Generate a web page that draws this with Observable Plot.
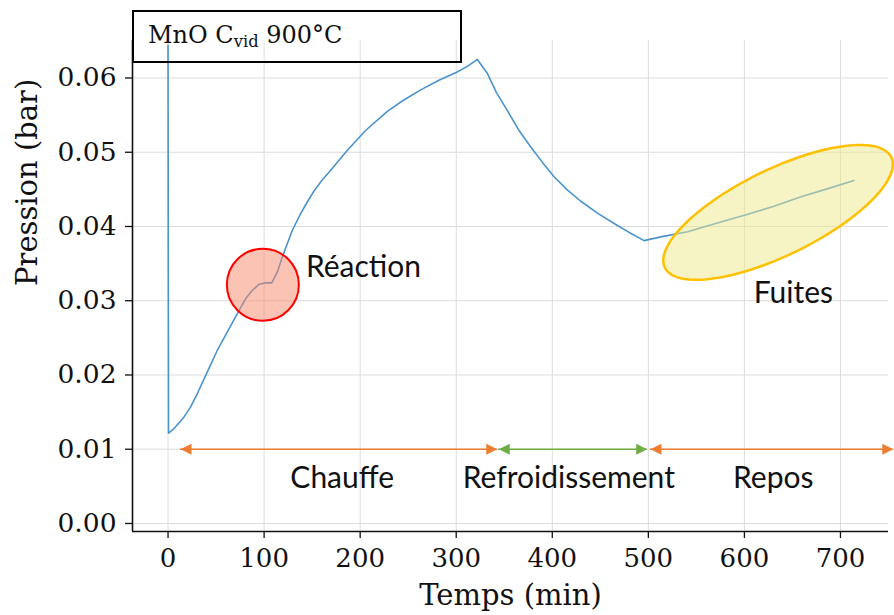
<!DOCTYPE html>
<html>
<head>
<meta charset="utf-8">
<script src="https://cdn.jsdelivr.net/npm/d3@7"></script>
<script src="https://cdn.jsdelivr.net/npm/@observablehq/plot@0.6"></script>
<style>
  html, body { margin: 0; padding: 0; background: white; }
  #wrap { position: relative; width: 894px; height: 615px; }
  #box {
    position: absolute; left: 132px; top: 10px; width: 330px; height: 53px;
    box-sizing: border-box; border: 2px solid #000; background: transparent;
    font-family: "DejaVu Serif", serif; font-size: 24px; color: #111;
    padding-left: 14px; line-height: 46px; white-space: nowrap;
  }
  #box sub { font-size: 0.68em; vertical-align: -0.25em; line-height: 0; }
</style>
</head>
<body>
<div id="wrap"><div id="box">MnO C<sub>vid</sub> 900°C</div></div>
<script>
// ---- data ----
const temps = [0, 0.5, 6, 16.5, 23.4, 30.4, 40.8, 51.2, 61.6, 72, 80.7, 87.6, 94.5, 101.5, 108,
  113.7, 118.9, 129.3, 137.9, 144.5, 151.8, 160, 169.1, 186.5, 205.6, 228.3, 245, 263, 282, 301, 312, 322,
  332.5, 342, 353.3, 365, 377.6, 390, 401.9, 415, 429.7, 447, 464.4, 480, 495.6, 513, 541, 570, 600, 630, 659, 687, 714];
const pression = [0.0644, 0.01216, 0.01275, 0.01432, 0.01567, 0.01747, 0.02038, 0.0233, 0.02577, 0.02824, 0.03026, 0.03138, 0.03219, 0.03241, 0.03241,
  0.03385, 0.03587, 0.03946, 0.0417, 0.0432, 0.04475, 0.0462, 0.04754, 0.05024, 0.05293, 0.0555, 0.0570, 0.0584, 0.0597, 0.0608, 0.0616, 0.0625,
  0.0606, 0.0580, 0.0556, 0.0530, 0.0507, 0.0486, 0.0467, 0.0450, 0.0434, 0.0418, 0.0404, 0.0392, 0.0381, 0.0386, 0.0393, 0.0404, 0.0415, 0.0427, 0.0440, 0.0451, 0.0462];

const xTicks = [0, 100, 200, 300, 400, 500, 600, 700];
const yTicks = [0, 0.01, 0.02, 0.03, 0.04, 0.05, 0.06];
const xDomain = [-37, 750];
const yDomain = [-0.00108, 0.06505];

const phaseNames = ["Chauffe", "Refroidissement", "Repos"];
const phaseStart = [13, 344.3, 502.2];
const phaseEnd = [342.7, 498.8, 755];
const phaseColors = ["#ED7D31", "#70AD47", "#ED7D31"];
const phaseLabelX = [181.3, 417.2, 630];
const phaseLabelY = 0.0061;
const arrowY = 0.01;

const reactionLabel = "Réaction";
const reactionCircle = {x: 98.7, y: 0.03215};
const reactionLabelPos = {x: 143.5, y: 0.0345};
const fuitesLabel = "Fuites";
const fuitesEllipse = {x: 635, y: 0.0419};
const fuitesLabelPos = {x: 651, y: 0.031};

const xLabel = "Temps (min)";
const yLabel = "Pression (bar)";

// ---- build tables ----
const curve = temps.map((t, i) => ({t, p: pression[i]}));
const phases = phaseNames.map((name, i) => ({
  name, start: phaseStart[i], end: phaseEnd[i], color: phaseColors[i], lx: phaseLabelX[i], y: arrowY, ly: phaseLabelY
}));

// custom symbols (pixel shapes, style only)
const triRight = {draw(ctx, size) { const s = Math.sqrt(size / Math.PI); ctx.moveTo(0, 0); ctx.lineTo(-11 * s, -5.5 * s); ctx.lineTo(-11 * s, 5.5 * s); ctx.closePath(); }};
const triLeft = {draw(ctx, size) { const s = Math.sqrt(size / Math.PI); ctx.moveTo(0, 0); ctx.lineTo(11 * s, -5.5 * s); ctx.lineTo(11 * s, 5.5 * s); ctx.closePath(); }};
const ellipseSym = {draw(ctx, size) {
  const s = Math.sqrt(size / Math.PI), a = 126 * s, b = 43 * s, th = -26 * Math.PI / 180;
  const n = 96;
  for (let k = 0; k <= n; k++) {
    const u = a * Math.cos(2 * Math.PI * k / n), v = b * Math.sin(2 * Math.PI * k / n);
    const x = u * Math.cos(th) - v * Math.sin(th), y = u * Math.sin(th) + v * Math.cos(th);
    if (k === 0) ctx.moveTo(x, y); else ctx.lineTo(x, y);
  }
  ctx.closePath();
}};

const sans = "Lato, 'Open Sans', sans-serif";

const chart = Plot.plot({
  width: 894, height: 615,
  marginLeft: 132, marginRight: 6, marginTop: 40, marginBottom: 84,
  x: {domain: xDomain},
  y: {domain: yDomain},
  color: {type: "identity"},
  style: {fontFamily: "'DejaVu Serif', serif", background: "transparent", overflow: "visible", color: "#111"},
  marks: [
    Plot.gridX(xTicks, {stroke: "#dcdcdc", strokeOpacity: 1, strokeWidth: 1}),
    Plot.gridY(yTicks, {stroke: "#dcdcdc", strokeOpacity: 1, strokeWidth: 1}),
    Plot.axisX(xTicks, {tickSize: 7, tickPadding: 10, fontSize: 26, label: null, tickFormat: d => String(d), strokeWidth: 1.3}),
    Plot.axisY(yTicks, {tickSize: 7, tickPadding: 9, fontSize: 26.5, label: null, tickFormat: d3.format(".2f"), strokeWidth: 1.3}),
    Plot.ruleX([xDomain[0]], {stroke: "#111", strokeWidth: 1.6}),
    Plot.ruleY([yDomain[0]], {stroke: "#111", strokeWidth: 1.6}),
    Plot.line(curve, {x: "t", y: "p", stroke: "#4a94cd", strokeWidth: 1.6}),
    Plot.dot([reactionCircle], {x: "x", y: "y", r: 36, fill: "rgb(245,135,105)", fillOpacity: 0.5, stroke: "#ff0000", strokeWidth: 2}),
    Plot.dot([fuitesEllipse], {x: "x", y: "y", r: 1, symbol: ellipseSym, fill: "rgb(237,231,140)", fillOpacity: 0.5, stroke: "#FFC000", strokeWidth: 2.5}),
    Plot.ruleY(phases, {y: "y", x1: "start", x2: "end", stroke: "color", strokeWidth: 1.5}),
    Plot.dot(phases, {x: "start", y: "y", r: 1, symbol: triLeft, fill: "color", stroke: "none"}),
    Plot.dot(phases, {x: "end", y: "y", r: 1, symbol: triRight, fill: "color", stroke: "none"}),
    Plot.text(phases, {x: "lx", y: "ly", text: "name", fontFamily: sans, fontSize: 30, fill: "#111", lineAnchor: "middle"}),
    Plot.text([reactionLabelPos], {x: "x", y: "y", text: () => reactionLabel, fontFamily: sans, fontSize: 30, fill: "#111", textAnchor: "start"}),
    Plot.text([fuitesLabelPos], {x: "x", y: "y", text: () => fuitesLabel, fontFamily: sans, fontSize: 30, fill: "#111"}),
    Plot.text([xLabel], {frameAnchor: "bottom", dy: 64, fontSize: 29, fill: "#111", lineAnchor: "middle"}),
    Plot.text([yLabel], {frameAnchor: "left", dx: -105, rotate: -90, fontSize: 29, fill: "#111", lineAnchor: "middle"})
  ]
});
const wrap = document.getElementById("wrap");
chart.style.position = "absolute";
chart.style.left = "0";
chart.style.top = "0";
wrap.insertBefore(chart, wrap.firstChild);
</script>
</body>
</html>
